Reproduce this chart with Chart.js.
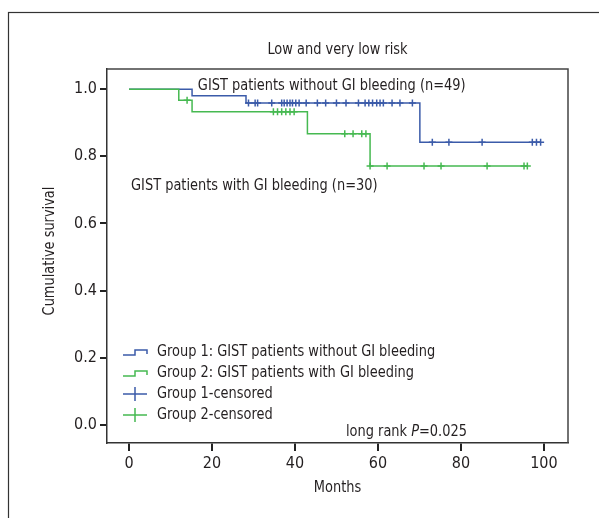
<!DOCTYPE html>
<html>
<head>
<meta charset="utf-8">
<script src="https://cdn.jsdelivr.net/npm/chart.js@4.4.1/dist/chart.umd.min.js"></script>
<style>
    html, body { margin: 0; padding: 0; background: #fff; }
    canvas { display: block; }
</style>
</head>
<body>
<canvas id="kmChart" width="599" height="518"></canvas>
<script>
const FONT = '"Liberation Sans Narrow", "DejaVu Sans Condensed", "Roboto Condensed", "Liberation Sans", sans-serif';
const BLUE = '#3b5ba9';
const GREEN = '#46b951';
const INK = '#231f20';
const SQUEEZE = 0.9; // horizontal squeeze for the narrow annotation font

// --- Kaplan-Meier steps (months / cumulative survival) ---
const group1Months = [0, 15.2, 28.2, 70.1, 99.2];
const group1Survival = [1.0, 0.980, 0.959, 0.842, 0.842];
const group2Months = [0, 12.0, 15.2, 43.0, 58.1, 96.0];
const group2Survival = [1.0, 0.967, 0.933, 0.867, 0.771, 0.771];

// --- censored cases (months) ---
const group1Censored = [28.8, 30.4, 31.0, 34.4, 36.8, 37.4, 38.1, 38.8, 39.4, 40.2, 41.0, 42.7,
    45.4, 47.4, 50.0, 52.3, 55.3, 56.9, 57.8, 58.7, 59.7, 60.5, 61.3, 63.4, 65.3, 68.3,
    73.1, 77.1, 85.1, 97.2, 98.2, 99.2];
const group2Censored = [14.0, 34.8, 35.8, 36.8, 37.8, 38.8, 39.8, 52.0, 54.0, 56.1, 57.1,
    58.1, 62.2, 71.1, 75.2, 86.3, 95.2, 96.0];

// --- axes ---
const monthTicks = [0, 20, 40, 60, 80, 100];
const survivalTicks = [0.0, 0.2, 0.4, 0.6, 0.8, 1.0];

// survival of a step curve at time t (value after the last step <= t)
function survivalAt(months, survival, t) {
    let s = survival[0];
    months.forEach((m, i) => { if (m <= t) s = survival[i]; });
    return s;
}

const curve = (months, survival) => months.map((m, i) => ({ x: m, y: survival[i] }));
const censorPoints = (list, months, survival) => list.map(t => ({ x: t, y: survivalAt(months, survival, t) }));

// draws narrowed text, returns its drawn width
function narrowText(ctx, text, x, y, align, rotation) {
    ctx.save();
    ctx.translate(x, y);
    if (rotation) ctx.rotate(rotation);
    ctx.scale(SQUEEZE, 1);
    ctx.textAlign = align || 'left';
    ctx.fillText(text, 0, 0);
    const w = ctx.measureText(text).width * SQUEEZE;
    ctx.restore();
    return w;
}

const decorations = {
    id: 'decorations',
    beforeDraw(chart) {
        const ctx = chart.ctx;
        ctx.save();
        ctx.strokeStyle = '#333';
        ctx.lineWidth = 1.2;
        ctx.strokeRect(8.5, 12.5, 800, 800);
        ctx.restore();
    },
    afterDraw(chart) {
        const { ctx, chartArea: a, scales: { x, y } } = chart;
        ctx.save();

        // top and right edges of the plot box
        ctx.strokeStyle = '#444';
        ctx.lineWidth = 1.5;
        ctx.beginPath();
        ctx.moveTo(a.left, a.top);
        ctx.lineTo(a.right, a.top);
        ctx.lineTo(a.right, a.bottom);
        ctx.stroke();

        ctx.fillStyle = INK;
        ctx.font = '16px ' + FONT;
        ctx.textBaseline = 'middle';

        // title and axis titles
        const cx = (a.left + a.right) / 2;
        narrowText(ctx, 'Low and very low risk', cx, 50, 'center');
        narrowText(ctx, 'Months', cx, 488, 'center');
        narrowText(ctx, 'Cumulative survival', 50, (a.top + a.bottom) / 2 - 5, 'center', -Math.PI / 2);

        // curve labels
        narrowText(ctx, 'GIST patients without GI bleeding (n=49)', x.getPixelForValue(16.6), y.getPixelForValue(1.009));
        narrowText(ctx, 'GIST patients with GI bleeding (n=30)', x.getPixelForValue(0.5), y.getPixelForValue(0.711));

        // legend
        const lx = a.left + 16, tx = a.left + 50;
        const rows = [
            { text: 'Group 1: GIST patients without GI bleeding', color: BLUE, step: true },
            { text: 'Group 2: GIST patients with GI bleeding', color: GREEN, step: true },
            { text: 'Group 1-censored', color: BLUE, step: false },
            { text: 'Group 2-censored', color: GREEN, step: false }
        ];
        rows.forEach((r, i) => {
            const ry = a.bottom - 91 + i * 21;
            ctx.strokeStyle = r.color;
            ctx.lineWidth = 1.5;
            ctx.beginPath();
            if (r.step) {
                ctx.moveTo(lx, ry + 3);
                ctx.lineTo(lx + 12, ry + 3);
                ctx.lineTo(lx + 12, ry - 2);
                ctx.lineTo(lx + 24, ry - 2);
                ctx.lineTo(lx + 24, ry + 2);
            } else {
                ctx.moveTo(lx, ry);
                ctx.lineTo(lx + 24, ry);
                ctx.moveTo(lx + 12, ry - 7);
                ctx.lineTo(lx + 12, ry + 7);
            }
            ctx.stroke();
            narrowText(ctx, r.text, tx, ry);
        });

        // log-rank p value
        let px = a.left + 239;
        const py = a.bottom - 11;
        px += narrowText(ctx, 'long rank ', px, py);
        ctx.font = 'italic 16px ' + FONT;
        px += narrowText(ctx, 'P', px, py);
        ctx.font = '16px ' + FONT;
        narrowText(ctx, '=0.025', px, py);

        ctx.restore();
    }
};

new Chart(document.getElementById('kmChart'), {
    type: 'line',
    data: {
        datasets: [
            {
                label: 'Group 2: GIST patients with GI bleeding',
                data: curve(group2Months, group2Survival),
                borderColor: GREEN, borderWidth: 1.5, stepped: true,
                pointRadius: 0, fill: false, order: 0
            },
            {
                label: 'Group 1: GIST patients without GI bleeding',
                data: curve(group1Months, group1Survival),
                borderColor: BLUE, borderWidth: 1.5, stepped: true,
                pointRadius: 0, fill: false, order: 1
            },
            {
                label: 'Group 1-censored',
                data: censorPoints(group1Censored, group1Months, group1Survival),
                showLine: false, pointStyle: 'cross', pointRadius: 3.5,
                borderColor: BLUE, pointBorderWidth: 1.5, order: 2
            },
            {
                label: 'Group 2-censored',
                data: censorPoints(group2Censored, group2Months, group2Survival),
                showLine: false, pointStyle: 'cross', pointRadius: 3.5,
                borderColor: GREEN, pointBorderWidth: 1.5, order: 3
            }
        ]
    },
    options: {
        responsive: false,
        devicePixelRatio: 1,
        animation: false,
        layout: { padding: { left: 0, top: 69, right: 31, bottom: 0 } },
        plugins: { legend: { display: false }, tooltip: { enabled: false } },
        scales: {
            x: {
                type: 'linear',
                min: -5.3, max: 105.8,
                afterFit: s => { s.height = 75; },
                afterBuildTicks: s => { s.ticks = monthTicks.map(v => ({ value: v })); },
                grid: { drawOnChartArea: false, drawTicks: true, tickLength: 8, color: '#222', lineWidth: 2 },
                border: { display: true, color: '#333', width: 1.5 },
                ticks: { color: INK, padding: 3, font: { family: FONT, size: 16 } }
            },
            y: {
                type: 'linear',
                min: -0.054, max: 1.06,
                afterFit: s => { s.width = 107; },
                afterBuildTicks: s => { s.ticks = survivalTicks.map(v => ({ value: v })); },
                grid: { drawOnChartArea: false, drawTicks: true, tickLength: 7, color: '#222', lineWidth: 2 },
                border: { display: true, color: '#333', width: 1.5 },
                ticks: { color: INK, padding: 3, font: { family: FONT, size: 16 }, callback: v => v.toFixed(1) }
            }
        }
    },
    plugins: [decorations]
});
</script>
</body>
</html>
